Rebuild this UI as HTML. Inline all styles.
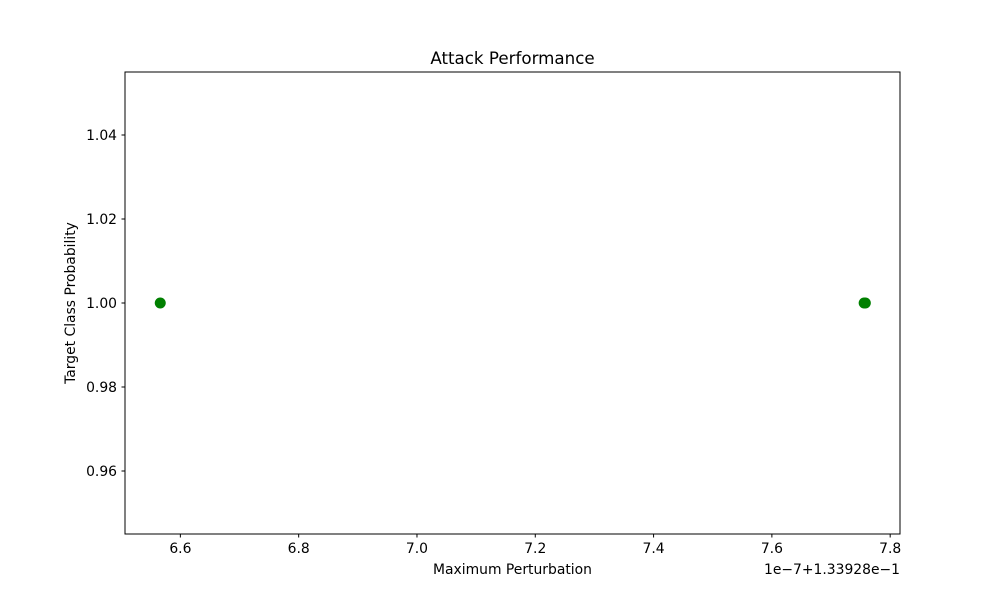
<!DOCTYPE html>
<html><head><meta charset="utf-8"><style>
html,body{margin:0;padding:0;background:#fff;}
svg text{font-family:"DejaVu Sans","Liberation Sans",sans-serif;fill:#000;}
</style></head><body>
<svg id="chart" width="1000" height="600" xmlns="http://www.w3.org/2000/svg">
<rect width="1000" height="600" fill="#fff"/>
<text x="512.5" y="64" font-size="16.7" text-anchor="middle">Attack Performance</text>
<g id="xt"></g>
<g id="yt"></g>
<g id="pts"></g>
<rect x="125" y="72" width="775" height="462" fill="none" stroke="#000" stroke-width="1"/>
<text x="512.5" y="574" font-size="13.9" text-anchor="middle">Maximum Perturbation</text>
<text x="900" y="574" font-size="13.9" text-anchor="end">1e−7+1.33928e−1</text>
<text transform="translate(75,303) rotate(-90)" font-size="13.9" text-anchor="middle">Target Class Probability</text>
</svg>
<script>
const xValues = [6.566, 7.756, 7.758];
const yValues = [1.0, 1.0, 1.0];
const xTicks = [6.6, 6.8, 7.0, 7.2, 7.4, 7.6, 7.8];
const yTicks = [0.96, 0.98, 1.00, 1.02, 1.04];
const NS = "http://www.w3.org/2000/svg";
const X0=125,X1=900,Y0=534,Y1=72;
const xmin=6.5064,xmax=7.8166,ymin=0.945,ymax=1.055;
const sx=v=>X0+(v-xmin)/(xmax-xmin)*(X1-X0);
const sy=v=>Y0-(v-ymin)/(ymax-ymin)*(Y0-Y1);
function mk(t,a){const e=document.createElementNS(NS,t);for(const k in a)e.setAttribute(k,a[k]);return e;}
const xt=document.getElementById('xt');
xTicks.forEach(v=>{const x=sx(v);
 const l=mk('line',{x1:x,x2:x,y1:534,y2:537.5,stroke:'#000'});
 
 
 xt.appendChild(l);
 const t=mk('text',{x:x,y:553,'font-size':13.9,'text-anchor':'middle'});t.textContent=v.toFixed(1);
 
 
 xt.appendChild(t);});
const yt=document.getElementById('yt');
yTicks.forEach(v=>{const y=sy(v);
 const l=mk('line',{x1:121.5,x2:125,y1:y,y2:y,stroke:'#000'});
 
 
 yt.appendChild(l);
 const t=mk('text',{x:117,y:y+5,'font-size':13.9,'text-anchor':'end'});t.textContent=v.toFixed(2);
 
 
 yt.appendChild(t);});
const pts=document.getElementById('pts');
xValues.forEach((v,i)=>{const c=mk('circle',{cx:sx(v),cy:sy(yValues[i]),r:5.5,fill:'green'});
 
 
 pts.appendChild(c);});
</script>
</body></html>
